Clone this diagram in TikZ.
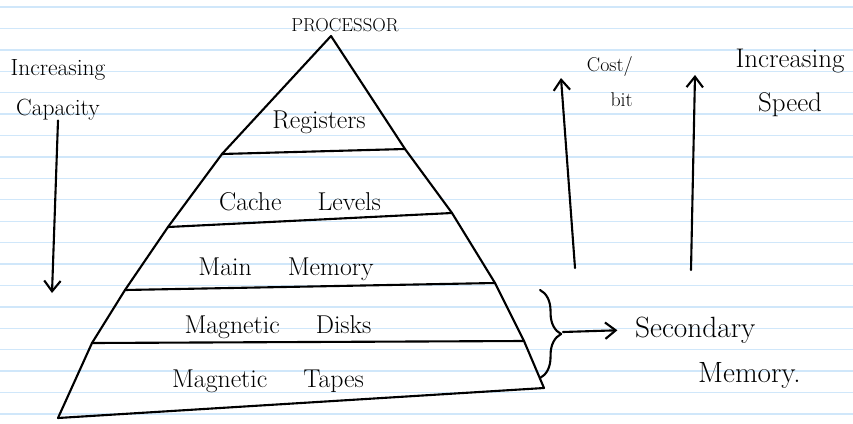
\documentclass[tikz,border=0pt]{standalone}
\usepackage{fontspec}
\usepackage{tikz}
\usetikzlibrary{arrows.meta, decorations.pathreplacing}
\definecolor{ruleblue}{RGB}{208,231,250}
\newcommand{\wgap}{\hspace{1.4em}}

\begin{document}
\begin{tikzpicture}[x=0.03cm, y=-0.03cm,
  ink/.style={line width=1.8pt, line cap=round, line join=round},
  rule/.style={ruleblue, line width=1.2pt},
  >={Straight Barb[length=9pt, width=14pt]},
  lbl/.style={inner sep=0pt, anchor=base, font=\fontsize{22}{26}\selectfont},
  note/.style={inner sep=0pt, align=center, font=\fontsize{20}{34}\selectfont}]

% Papel pautado
\fill[white] (0,0) rectangle (853,423);
\useasboundingbox (0,0) rectangle (853,423);
\foreach \k in {0,...,19}
  \draw[rule] (0,{7+21.42*\k}) -- (853,{7+21.42*\k});

% Piramide
\coordinate (apex) at (331,36);
\coordinate (l1) at (222,154); \coordinate (r1) at (405,149);
\coordinate (l2) at (168,227); \coordinate (r2) at (452,213);
\coordinate (l3) at (125,290); \coordinate (r3) at (495,283);
\coordinate (l4) at (92,343);  \coordinate (r4) at (524,341);
\coordinate (l5) at (58,418);  \coordinate (r5) at (544,388);
\draw[ink] (l5) -- (l4) -- (l3) -- (l2) -- (l1) -- (apex)
  -- (r1) -- (r2) -- (r3) -- (r4) -- (r5);
\draw[ink] (l1) -- (r1);
\draw[ink] (l2) -- (r2);
\draw[ink] (l3) -- (r3);
\draw[ink] (l4) -- (r4);
\draw[ink] (l5) -- (r5);

% Niveis
\node[inner sep=0pt, anchor=base, font=\fontsize{16}{18}\selectfont] (proc) at (345,32) {PROCESSOR};
\node[lbl] (reg) at (319,128) {Registers};
\node[lbl] (cache) at (300,210) {Cache\wgap Levels};
\node[lbl] (main) at (286,275) {Main\wgap Memory};
\node[lbl] (disks) at (278,333) {Magnetic\wgap Disks};
\node[lbl] (tapes) at (268,387) {Magnetic\wgap Tapes};

% Capacidade
\node[note] (capacity) at (58,90) {Increasing\\Capacity};
\coordinate (capend) at (52,293);
\draw[ink, ->] (capacity.south) -- (capend);

% Custo e velocidade
\node[inner sep=0pt, align=right, anchor=east, font=\fontsize{17}{30}\selectfont] (cost) at (633,82) {Cost/\\bit};
\coordinate (costlow) at (575,268);
\coordinate (costhigh) at (561,78);
\draw[ink, ->] (costlow) -- (costhigh);
\node[note, font=\fontsize{23}{38}\selectfont] (speed) at (790,83) {Increasing\\Speed};
\coordinate (speedlow) at (691,270);
\coordinate (speedhigh) at (695,75);
\draw[ink, ->] (speedlow) -- (speedhigh);

% Memoria secundaria
\coordinate (bracetop) at (540,290);
\coordinate (bracebot) at (540,378);
\draw[ink, decorate, decoration={brace, amplitude=18pt}] (bracetop) -- (bracebot);
\coordinate (bracetip) at (563,332);
\node[inner sep=0pt, anchor=base west, font=\fontsize{25}{28}\selectfont] (secondary) at (635,337) {Secondary};
\node[inner sep=0pt, anchor=base west, font=\fontsize{25}{28}\selectfont] (memory) at (698,382) {Memory.};
\draw[ink, ->, shorten >=15pt] (bracetip) -- (secondary.west);
\end{tikzpicture}
\end{document}
